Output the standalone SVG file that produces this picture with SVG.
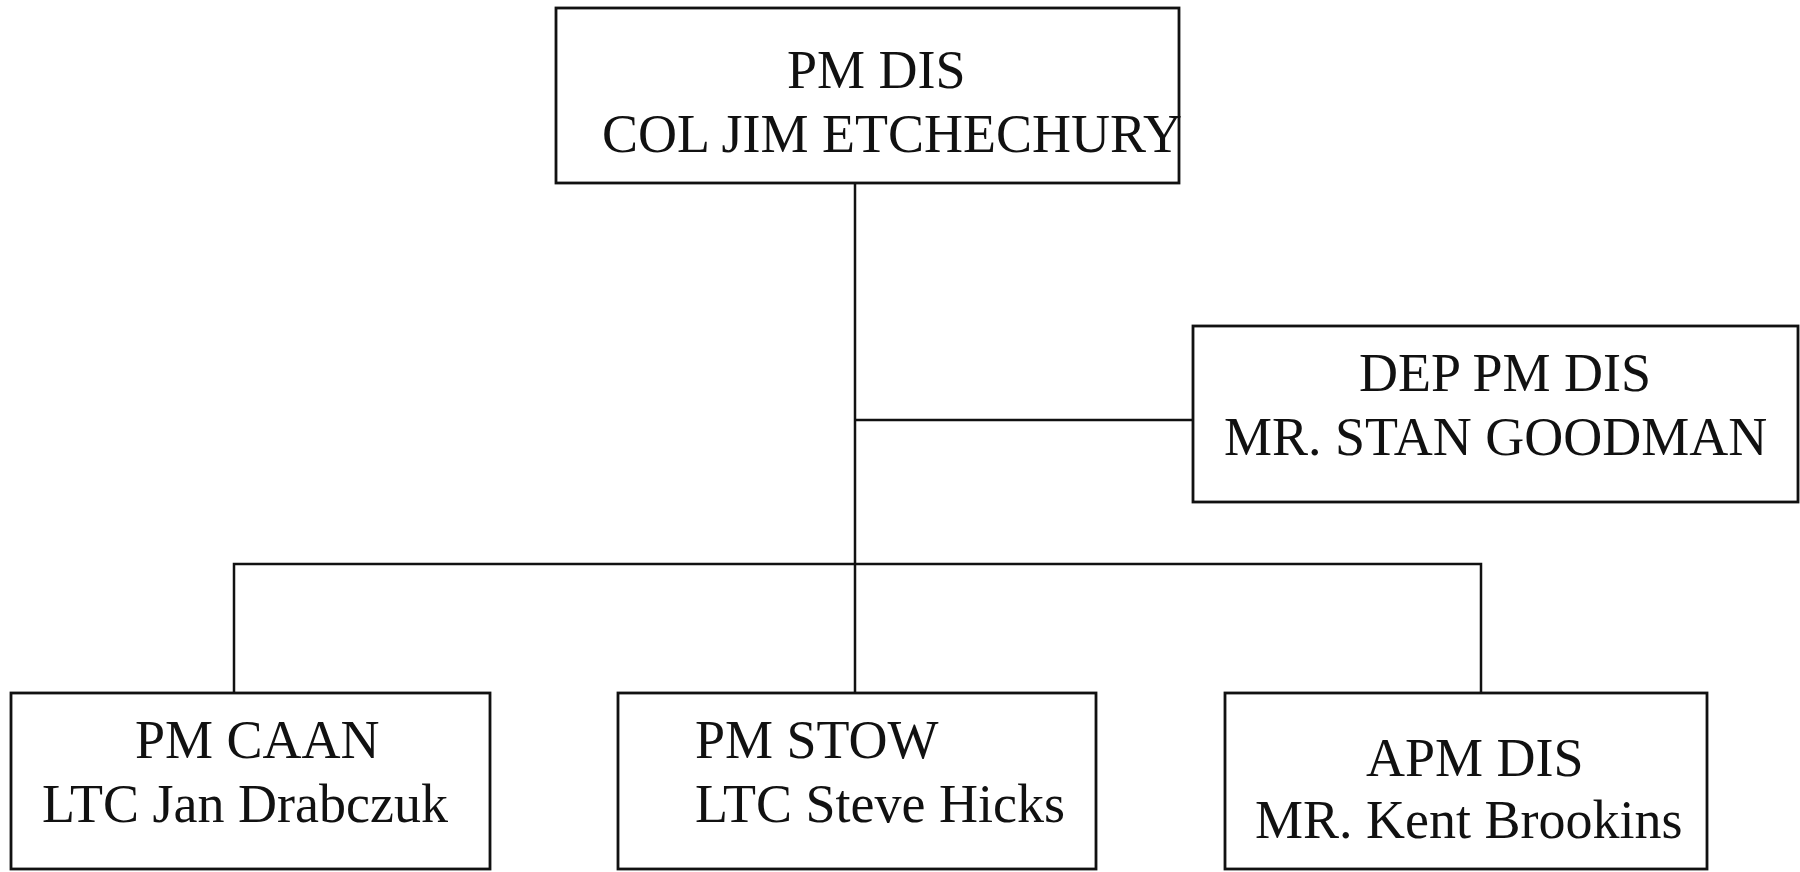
<svg xmlns="http://www.w3.org/2000/svg" width="1800" height="872" viewBox="0 0 1800 872">
<style>
.box{fill:#fff;stroke:#111;stroke-width:2.8}
.t{font-family:"Liberation Serif","Times New Roman",serif;font-size:54px;fill:#111}
.c{fill:none;stroke:#111;stroke-width:2.5}
</style>
<rect width="1800" height="872" fill="#fff"/>
<g id="connectors">
<line class="c" x1="855" y1="183" x2="855" y2="692"/>
<line class="c" x1="855" y1="420" x2="1193" y2="420"/>
<polyline class="c" points="234,693 234,564 1481,564 1481,693"/>
</g>
<g id="pm-dis">
<rect class="box" x="556" y="8" width="623" height="175"/>
<text class="t" x="787" y="88">PM DIS</text>
<text class="t" x="602" y="152">COL JIM ETCHECHURY</text>
</g>
<g id="dep-pm-dis">
<rect class="box" x="1193" y="326" width="605" height="176"/>
<text class="t" x="1359" y="391">DEP PM DIS</text>
<text class="t" x="1224" y="455">MR. STAN GOODMAN</text>
</g>
<g id="pm-caan">
<rect class="box" x="11" y="693" width="479" height="176"/>
<text class="t" x="135" y="758">PM CAAN</text>
<text class="t" x="42" y="822">LTC Jan Drabczuk</text>
</g>
<g id="pm-stow">
<rect class="box" x="618" y="693" width="478" height="176"/>
<text class="t" x="695" y="758">PM STOW</text>
<text class="t" x="695" y="822">LTC Steve Hicks</text>
</g>
<g id="apm-dis">
<rect class="box" x="1225" y="693" width="482" height="176"/>
<text class="t" x="1366" y="776">APM DIS</text>
<text class="t" x="1255" y="838">MR. Kent Brookins</text>
</g>
</svg>
